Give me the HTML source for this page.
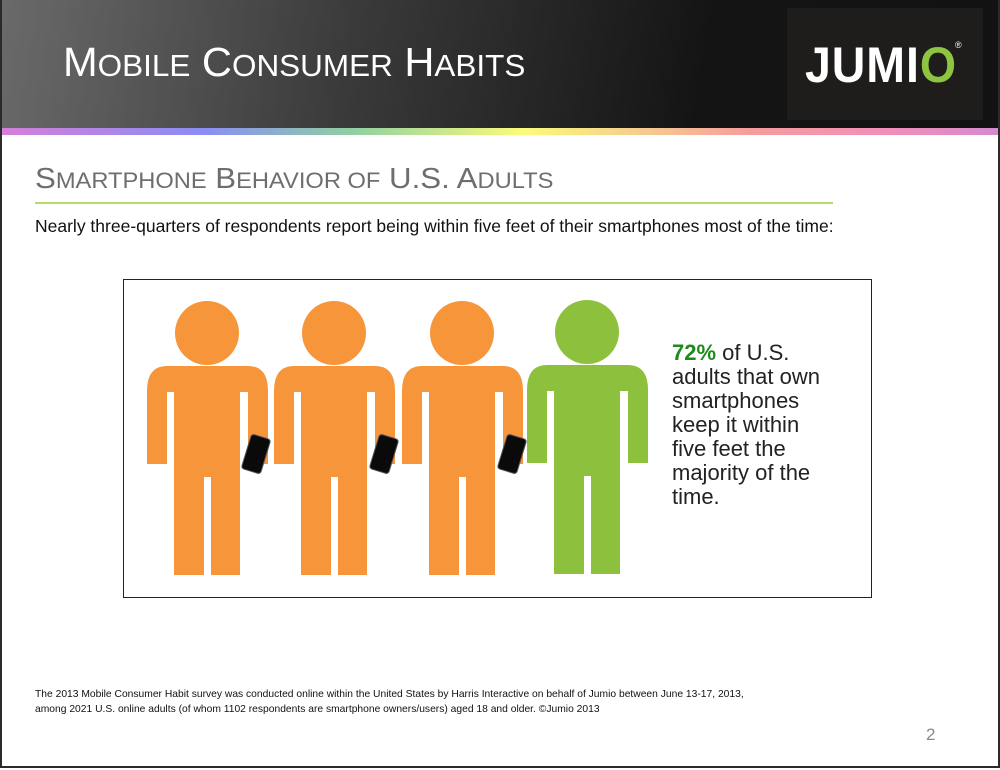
<!DOCTYPE html>
<html><head><meta charset="utf-8"><style>
body{margin:0;width:1000px;height:770px;overflow:hidden;background:#fff;font-family:"Liberation Sans",sans-serif}
#s{position:absolute;left:0;top:0;width:996px;height:766px;border:2px solid #2a2a2a;border-top:none;background:#fff;overflow:hidden}
#hd{position:absolute;left:0;top:0;width:1000px;height:128px;background:linear-gradient(100deg,#6a6a6a 0%,#3a3a3a 35%,#141414 70%,#121212 100%)}
#rb{position:absolute;left:0;top:128px;width:1000px;height:7px;background:linear-gradient(90deg,#d57fd9 0%,#8a8df5 20%,#8fd0a2 35%,#fbfb7a 52%,#f6c890 65%,#f59c9c 75%,#f28fb8 88%,#d48ad0 100%)}
.t{position:absolute;white-space:nowrap}
#logo{position:absolute;left:785px;top:8px;width:196px;height:112px;background:#1f1d1c}
</style></head><body><div id="s">
<div id="hd"></div><div id="rb"></div>
<div class="t" style="left:61px;top:39px;color:#fff;font-size:41px;transform:scaleX(1.015);transform-origin:left">M<span style="font-size:31px">OBILE</span> C<span style="font-size:31px">ONSUMER</span> H<span style="font-size:31px">ABITS</span></div>
<div id="logo"><div class="t" style="left:18px;top:28px;color:#fff;font-size:50px;font-weight:bold;letter-spacing:1px;transform:scaleX(0.93);transform-origin:left">JUMI<span style="color:#8dc540">O</span></div><div class="t" style="left:168px;top:32px;color:#fff;font-size:9px">®</div></div>
<div class="t" style="left:33px;top:163px;color:#6e6e6e;font-size:29px;transform:scaleX(1.076);transform-origin:left">S<span style="font-size:22px">MARTPHONE</span> B<span style="font-size:22px">EHAVIOR OF</span> U.S. A<span style="font-size:22px">DULTS</span></div>
<div style="position:absolute;left:33px;top:202px;width:798px;height:2px;background:#b5dc6b"></div>
<div class="t" style="left:33px;top:216px;font-size:17.5px;color:#111;transform:scaleX(1.0);transform-origin:left">Nearly three-quarters of respondents report being within five feet of their smartphones most of the time:</div>
<div style="position:absolute;left:121px;top:279px;width:747px;height:317px;border:1.5px solid #222"></div>
<svg style="position:absolute;left:-2px;top:0" width="1000" height="770">
<defs><g id="p"><circle cx="60" cy="43" r="32"/><path d="M0 101 Q0 76 20 76 L101 76 Q121 76 121 101 L121 174 L101 174 L101 102 L93 102 L93 285 L64 285 L64 187 L57 187 L57 285 L27 285 L27 102 L20 102 L20 174 L0 174 Z"/></g>
<g id="ph"><rect x="-10" y="-18" width="20" height="36" rx="3" fill="#0a0a0a" stroke="#555" stroke-width="1"/></g></defs>
<use href="#p" x="147" y="290" fill="#f7953a"/>
<use href="#p" x="274" y="290" fill="#f7953a"/>
<use href="#p" x="402" y="290" fill="#f7953a"/>
<use href="#p" x="527" y="289" fill="#8dc03c"/>
<use href="#ph" transform="translate(256 454) rotate(17)"/>
<use href="#ph" transform="translate(384 454) rotate(17)"/>
<use href="#ph" transform="translate(512 454) rotate(17)"/>
</svg>
<div class="t" style="left:670px;top:341px;font-size:22px;line-height:24px;color:#222"><b style="color:#1e8a1e">72%</b> of U.S.<br>adults that own<br>smartphones<br>keep it within<br>five feet the<br>majority of the<br>time.</div>
<div class="t" style="left:33px;top:687px;font-size:10.5px;line-height:15px;color:#111;transform:scaleX(0.98);transform-origin:left">The 2013 Mobile Consumer Habit survey was conducted online within the United States by Harris Interactive on behalf of Jumio between June 13-17, 2013,<br>among 2021 U.S. online adults (of whom 1102 respondents are smartphone owners/users) aged 18 and older. ©Jumio 2013</div>
<div class="t" style="left:924px;top:725px;font-size:17px;color:#888">2</div>
</div></body></html>
